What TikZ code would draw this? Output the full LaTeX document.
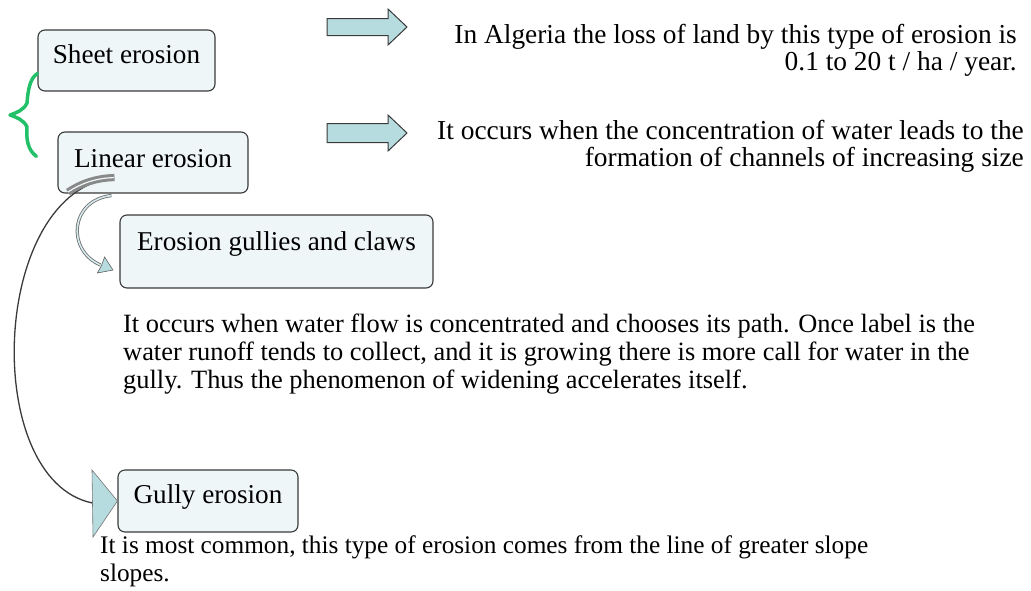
\documentclass[tikz,border=0pt]{standalone}
\usepackage{fontspec}
\setmainfont{Liberation Serif}
\usetikzlibrary{arrows.meta,calc}
\definecolor{boxfill}{HTML}{EEF6F8}
\definecolor{boxline}{HTML}{3A3A3A}
\definecolor{arrowfill}{HTML}{B7DCE0}
\definecolor{bracegreen}{HTML}{22C068}
\begin{document}
\begin{tikzpicture}[x=1pt,y=-1pt,
  ebox/.style={draw=boxline, fill=boxfill, line width=1.1pt, rounded corners=7pt,
    font=\fontsize{27.2}{29}\selectfont, inner sep=0pt, text height=18pt},
  txt/.style={inner sep=0pt, text=black},
  rtxt/.style={txt, font=\fontsize{27.4}{29}\selectfont},
  ptxt/.style={txt, font=\fontsize{26.4}{29}\selectfont},
  btxt/.style={txt, font=\fontsize{25.3}{29}\selectfont},
  blockarrow/.style={draw=boxline, fill=arrowfill, line width=1pt, line join=miter},
  headfill/.style={draw=boxline!70, fill=arrowfill, line width=0.6pt}
]
\useasboundingbox (0,0) rectangle (1031,590);

% boxes
\node[ebox, minimum width=177pt, minimum height=61pt, text depth=13pt] (sheet) at (126.5,60.5) {Sheet erosion};
\node[ebox, minimum width=190pt, minimum height=61pt, text depth=9pt] (linear) at (153,162.5) {Linear erosion};
\node[ebox, minimum width=313pt, minimum height=73pt, text depth=21pt] (gullies) at (276.5,251.5) {Erosion gullies and claws};
\node[ebox, minimum width=180pt, minimum height=62pt, text depth=14pt] (gully) at (208,501) {Gully erosion};

% right texts
\node[rtxt, anchor=base east] (t1a) at (1017,43) {In Algeria the loss of land by this type of erosion is};
\node[rtxt, anchor=base east] (t1b) at (1017,70) {0.1 to 20 t / ha / year.};
\node[rtxt, anchor=base east] (t2a) at (1024,139) {It occurs when the concentration of water leads to the};
\node[rtxt, anchor=base east] (t2b) at (1024,166) {formation of channels of increasing size};

% paragraph
\node[ptxt, anchor=base west] (p1) at (123,332) {It occurs when water flow is concentrated and chooses its path. Once label is the};
\node[ptxt, anchor=base west] (p2) at (123,360) {water runoff tends to collect, and it is growing there is more call for water in the};
\node[ptxt, anchor=base west] (p3) at (123,388) {gully. Thus the phenomenon of widening accelerates itself.};

% bottom text
\node[btxt, anchor=base west] (b1) at (100,553) {It is most common, this type of erosion comes from the line of greater slope};
\node[btxt, anchor=base west] (b2) at (100,581) {slopes.};

% block arrows
\draw[blockarrow] (327,18.5) -- (388,18.5) -- (388,9) -- (407,27) -- (388,45) -- (388,35.5) -- (327,35.5) -- cycle;
\draw[blockarrow] (327,123.5) -- (388,123.5) -- (388,115) -- (407,133) -- (388,151) -- (388,142.5) -- (327,142.5) -- cycle;

% green brace
\draw[bracegreen, line width=3.5pt, line cap=round, line join=round]
  ($(sheet.south west)+(0,-18)$) .. controls (30,78) and (28,90) .. (27,103)
  .. controls (24,110) and (16,113) .. (10,115)
  .. controls (16,117) and (24,120) .. (27,127)
  .. controls (26,140) and (28,150) .. ($(linear.north west)+(-21,25)$);

% big curved connector linear -> gully
\coordinate (bigstart) at ($(linear.south west)+(57,-16)$);
\coordinate (bigend) at ($(gully.west)+(-25,2)$);
\draw[boxline, line width=1.3pt] (bigstart) .. controls (-10,190) and (-20,480) .. (bigend);
\draw[boxline!60, line width=3pt, double=boxfill, double distance=1.2pt]
  (bigstart) .. controls (95,178) and (80,184) .. (68,192);
\draw[headfill] (92,470) -- (gully.west) -- (93,537) -- cycle;

% small curved connector linear -> gullies
\coordinate (smallstart) at ($(linear.south west)+(54,2)$);
\coordinate (smallend) at ($(gullies.west)+(-19,13.5)$);
\draw[boxline!75, line width=0.8pt, double=arrowfill!60, double distance=1.6pt]
  (smallstart) .. controls (70,200) and (66,250) .. (smallend);
\draw[headfill, draw=boxline!80] (104.6,257) -- (113,270) -- (97.4,273) -- (101.5,265.5) -- cycle;
\end{tikzpicture}
\end{document}
